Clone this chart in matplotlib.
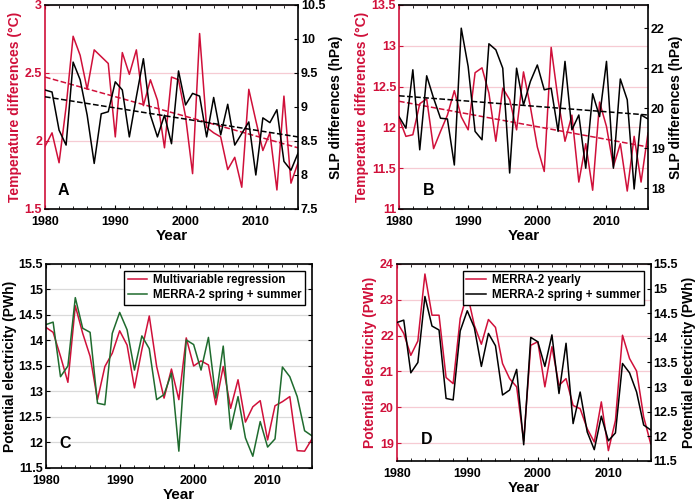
import matplotlib
matplotlib.use('Agg')
import matplotlib.pyplot as plt
from matplotlib.ticker import MultipleLocator, FuncFormatter
import numpy as np

plt.rcParams.update({
    'font.family': 'Liberation Sans',
    'font.weight': 'bold',
    'axes.labelweight': 'bold',
    'font.size': 8.5,
})

RED = '#D0103A'
GREEN = '#1F6B2E'
PINK = '#F6CBD3'
GREYGRID = '#DADADA'

years = np.arange(1980, 2017)

# Panel A: temperature / SLP differences
temp_a = [1.96, 2.06, 1.84, 2.25, 2.77, 2.63, 2.38, 2.67, 2.62, 2.57,
          2.03, 2.65, 2.49, 2.67, 2.26, 2.45, 2.30, 1.95, 2.47, 2.45,
          2.18, 1.76, 2.79, 2.10, 2.06, 2.03, 1.79, 1.88, 1.66, 2.38,
          2.15, 1.93, 2.06, 1.64, 2.33, 1.69, 1.84]
slp_a = [9.25, 9.22, 8.66, 8.44, 9.66, 9.40, 8.88, 8.17, 8.90, 8.93,
         9.37, 9.25, 8.56, 9.15, 9.71, 8.88, 8.56, 8.88, 8.46, 9.53,
         9.03, 9.20, 9.16, 8.56, 9.14, 8.59, 9.04, 8.44, 8.61, 8.78,
         8.00, 8.84, 8.77, 8.96, 8.20, 8.07, 8.32]
temp_a_trend = [2.47, 1.95]
slp_a_trend = [9.15, 8.56]

# Panel B
temp_b = [12.11, 11.89, 11.91, 12.29, 12.35, 11.74, 11.95, 12.15, 12.45, 12.13,
          11.97, 12.67, 12.73, 12.42, 11.83, 12.48, 12.34, 11.97, 12.68, 12.25,
          11.76, 11.46, 12.98, 12.34, 11.83, 12.15, 11.33, 11.80, 11.23, 12.31,
          12.01, 11.52, 11.80, 11.22, 11.89, 11.33, 11.93]
slp_b = [19.79, 19.50, 20.96, 18.96, 20.81, 20.25, 19.75, 19.73, 18.58, 22.00,
         21.04, 19.42, 19.21, 21.61, 21.46, 21.00, 18.38, 21.00, 20.08, 20.67,
         21.08, 20.46, 20.50, 19.42, 21.17, 19.46, 19.83, 18.50, 20.36, 19.79,
         21.17, 18.50, 20.73, 20.21, 17.98, 19.83, 19.73]
temp_b_trend = [12.32, 11.76]
slp_b_trend = [20.31, 19.83]

# Panel C / D: potential electricity (PWh)
regression = [14.26, 14.16, 13.69, 13.18, 14.68, 14.14, 13.69, 12.84, 13.49, 13.75,
              14.19, 13.91, 13.07, 13.82, 14.48, 13.49, 12.87, 13.44, 12.84, 14.05,
              13.50, 13.60, 13.52, 12.74, 13.49, 12.67, 13.23, 12.40, 12.70, 12.82,
              12.05, 12.72, 12.80, 12.90, 11.84, 11.83, 12.07]
spring_summer = [14.31, 14.36, 13.29, 13.50, 14.84, 14.24, 14.16, 12.77, 12.74, 14.14,
                 14.55, 14.21, 13.42, 14.09, 13.84, 12.84, 12.94, 13.36, 11.83, 14.01,
                 13.92, 13.42, 14.06, 12.87, 13.89, 12.26, 12.90, 12.09, 11.73, 12.41,
                 11.91, 12.07, 13.48, 13.29, 12.90, 12.23, 12.13]
yearly = [22.39, 22.06, 21.45, 21.85, 23.72, 22.57, 22.57, 20.83, 20.66, 22.48,
          23.18, 22.29, 21.76, 22.45, 22.23, 21.22, 20.80, 20.57, 19.06, 21.73,
          21.83, 20.57, 21.69, 20.61, 20.80, 20.05, 19.96, 19.40, 19.03, 20.15,
          18.79, 19.63, 22.01, 21.36, 21.01, 19.73, 18.98]

fmt = FuncFormatter(lambda v, p: f'{v:g}')
LEG_KW = dict(loc='upper right', fontsize=8.3, fancybox=False, edgecolor='black',
              framealpha=1, borderaxespad=0.6, handlelength=1.7, handletextpad=0.5,
              borderpad=0.3, labelspacing=0.25)


def style_x(ax):
    ax.set_xlim(1980, 2016)
    ax.xaxis.set_major_locator(MultipleLocator(10))
    ax.xaxis.set_minor_locator(MultipleLocator(2))
    ax.tick_params(axis='x', which='both', direction='in', top=True, length=3,
                   labelsize=9, pad=5)
    ax.tick_params(axis='x', which='minor', length=2)
    ax.set_xlabel('Year', fontsize=11, labelpad=0.5)


def dual_panel(rect, letter, left_data, right_data, left_trend, right_trend,
               left_lim, left_step, right_lim, right_ticks, left_label, right_label,
               left_color=RED, right_color='black', legend=None):
    ax = fig.add_axes(rect)
    ax2 = ax.twinx()
    ax.set_zorder(1)
    ax2.set_zorder(2)
    ax2.patch.set_visible(False)

    l1, = ax.plot(years, left_data, color=left_color, lw=1.1)
    l2, = ax2.plot(years, right_data, color=right_color, lw=1.1)
    if left_trend is not None:
        ax.plot([years[0], years[-1]], left_trend, '--', color=left_color, lw=1.1)
        ax2.plot([years[0], years[-1]], right_trend, '--', color=right_color, lw=1.1)

    ax.set_ylim(*left_lim)
    ax.yaxis.set_major_locator(MultipleLocator(left_step))
    ax.yaxis.set_major_formatter(fmt)
    ax.grid(axis='y', color=PINK, lw=0.9)
    ax.set_axisbelow(True)
    ax2.set_ylim(*right_lim)
    ax2.set_yticks(right_ticks)
    ax2.yaxis.set_major_formatter(fmt)

    style_x(ax)
    ax.spines['left'].set_color(left_color)
    ax.spines['right'].set_visible(False)
    for s in ['top', 'bottom', 'left']:
        ax2.spines[s].set_visible(False)
    ax2.spines['right'].set_color('black')
    for s in ax.spines.values():
        s.set_linewidth(1.2)
    ax2.spines['right'].set_linewidth(1.2)
    ax.tick_params(axis='y', colors=left_color, direction='in', length=3,
                   labelsize=9, pad=2)
    ax2.tick_params(axis='y', colors='black', direction='in', length=3,
                    labelsize=9, pad=2)
    ax.set_ylabel(left_label, color=left_color, fontsize=10, labelpad=2)
    ax2.set_ylabel(right_label, color='black', fontsize=10, labelpad=3)
    ax.text(*letter[1], letter[0], transform=ax.transAxes, fontsize=11.5,
            fontweight='bold', ha='left', va='center')
    if legend is not None:
        leg = ax2.legend([l1, l2], legend, **LEG_KW)
        leg.get_frame().set_linewidth(1.0)
    return ax, ax2


fig = plt.figure(figsize=(7.0, 5.03), dpi=100)

dual_panel([0.0643, 0.5845, 0.3614, 0.4056], ('A', (0.05, 0.093)),
           temp_a, slp_a, temp_a_trend, slp_a_trend,
           (1.5, 3.0), 0.5, (7.5, 10.5), [7.5, 8, 8.5, 9, 9.5, 10, 10.5],
           'Temperature differences (°C)', 'SLP differences (hPa)')

dual_panel([0.570, 0.5845, 0.3557, 0.4056], ('B', (0.095, 0.093)),
           temp_b, slp_b, temp_b_trend, slp_b_trend,
           (11.0, 13.5), 0.5, (17.48, 22.58), [18, 19, 20, 21, 22],
           'Temperature differences (°C)', 'SLP differences (hPa)')

# Panel C
axc = fig.add_axes([0.0653, 0.0696, 0.3804, 0.4056])
axc.plot(years, regression, color=RED, lw=1.1, label='Multivariable regression')
axc.plot(years, spring_summer, color=GREEN, lw=1.1, label='MERRA-2 spring + summer')
axc.set_ylim(11.5, 15.5)
axc.yaxis.set_major_locator(MultipleLocator(0.5))
axc.yaxis.set_major_formatter(fmt)
axc.grid(axis='y', color=GREYGRID, lw=0.9)
axc.set_axisbelow(True)
style_x(axc)
axc.tick_params(axis='y', direction='in', length=3, right=True, labelsize=9, pad=2)
for s in axc.spines.values():
    s.set_linewidth(1.2)
axc.set_ylabel('Potential electricity (PWh)', fontsize=10, labelpad=1)
axc.text(0.05, 0.12, 'C', transform=axc.transAxes, fontsize=11.5,
         fontweight='bold', ha='left', va='center')
leg = axc.legend(**LEG_KW)
leg.get_frame().set_linewidth(1.0)

# Panel D
dual_panel([0.5667, 0.0835, 0.3629, 0.3917], ('D', (0.095, 0.107)),
           yearly, spring_summer, None, None,
           (18.5, 24.0), 1.0, (11.5, 15.5), [11.5, 12, 12.5, 13, 13.5, 14, 14.5, 15, 15.5],
           'Potential electricity (PWh)', 'Potential electricity (PWh)',
           legend=['MERRA-2 yearly', 'MERRA-2 spring + summer'])

fig.savefig('out.png', dpi=100)
